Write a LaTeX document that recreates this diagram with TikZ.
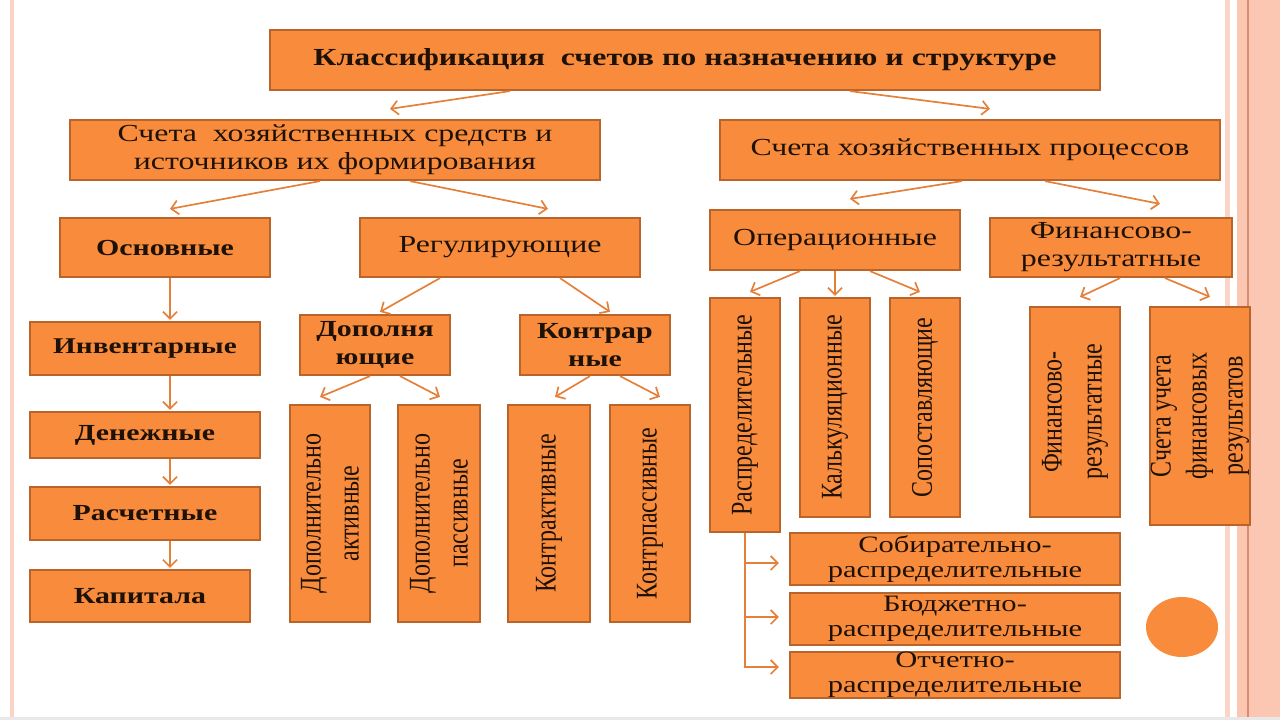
\documentclass[tikz,border=0pt]{standalone}
\usepackage{fontspec}
\setmainfont{Liberation Serif}[FakeStretch=1.3]
\newfontfamily\vfont{Liberation Serif}[FakeStretch=0.8]
\usetikzlibrary{arrows.meta,calc,shapes.geometric}
\definecolor{boxfill}{RGB}{248,140,60}
\definecolor{boxline}{RGB}{185,100,42}
\definecolor{arrcol}{RGB}{228,128,58}
\definecolor{txt}{RGB}{30,18,8}
\definecolor{stripeA}{RGB}{250,212,198}
\definecolor{stripeB}{RGB}{251,198,178}
\definecolor{stripeC}{RGB}{214,140,110}
\definecolor{bottomline}{RGB}{232,232,232}
\tikzset{
 box/.style={draw=boxline, line width=2.2pt, fill=boxfill, text=txt, inner sep=0pt, align=center, font=\fontsize{24.5}{28}\selectfont},
 bbox/.style={box, font=\bfseries\fontsize{23}{28}\selectfont},
 vbox/.style={draw=boxline, line width=2.2pt, fill=boxfill, inner sep=0pt},
 vtext/.style={rotate=90, text=txt, align=center, inner sep=0pt, font=\vfont\fontsize{30}{38}\selectfont},
 arr/.style={draw=arrcol, line width=1.7pt, -{Straight Barb[length=7pt,width=14pt]}},
}
\begin{document}
\begin{tikzpicture}[x=1pt,y=-1pt]
\useasboundingbox (0,0) rectangle (1280,720);
% decorative stripes
\fill[stripeA] (10,0) rectangle (14,720);
\fill[stripeA] (1225,0) rectangle (1230,720);
\fill[stripeB] (1237,0) rectangle (1280,720);
\fill[stripeC] (1247,0) rectangle (1249,720);
\fill[bottomline] (0,717) rectangle (1280,720);

% level 1
\node[bbox, minimum width=830pt, minimum height=60pt, font=\bfseries\fontsize{24.5}{28}\selectfont] (title) at (685,60) {Классификация~~счетов по назначению и структуре};
% level 2
\node[box, minimum width=530pt, minimum height=60pt] (sred) at (335,150) {Счета~~хозяйственных средств и\\источников их формирования};
\node[box, minimum width=500pt, minimum height=60pt] (proc) at (970,150) {Счета хозяйственных процессов};
% level 3
\node[bbox, minimum width=210pt, minimum height=59pt] (osn) at (165,247.5) {Основные};
\node[box, minimum width=280pt, minimum height=59pt] (reg) at (500,247.5) {Регулирующие};
\node[box, minimum width=250pt, minimum height=60pt] (oper) at (835,240) {Операционные};
\node[box, minimum width=242pt, minimum height=59pt] (finres) at (1111,247.5) {Финансово-\\результатные};
% left column
\node[bbox, minimum width=230pt, minimum height=53pt, font=\bfseries\fontsize{22.5}{28}\selectfont] (inv) at (145,348.5) {Инвентарные};
\node[bbox, minimum width=230pt, minimum height=46pt] (den) at (145,435) {Денежные};
\node[bbox, minimum width=230pt, minimum height=53pt] (rasch) at (145,513.5) {Расчетные};
\node[bbox, minimum width=220pt, minimum height=52pt] (kap) at (140,596) {Капитала};
% regulating
\node[bbox, minimum width=150pt, minimum height=60pt] (dop) at (375,345) {Дополня\\ющие};
\node[bbox, minimum width=150pt, minimum height=60pt] (kontr) at (595,345) {Контрар\\ные};
\node[vbox, minimum width=80pt, minimum height=217pt] (da) at (330,513.5) {};
\node[vtext] (daT) at (da) {Дополнительно\\активные};
\node[vbox, minimum width=82pt, minimum height=217pt] (dp) at (439,513.5) {};
\node[vtext] (dpT) at (dp) {Дополнительно\\пассивные};
\node[vbox, minimum width=82pt, minimum height=217pt] (ka) at (549,513.5) {};
\node[vtext] (kaT) at (ka) {Контрактивные};
\node[vbox, minimum width=80pt, minimum height=217pt] (kp) at (650,513.5) {};
\node[vtext] (kpT) at (kp) {Контрпассивные};
% operational
\node[vbox, minimum width=70pt, minimum height=234pt] (raspr) at (745,415) {};
\node[vtext] (rasprT) at (raspr) {Распределительные};
\node[vbox, minimum width=70pt, minimum height=219pt] (kalk) at (835,407.5) {};
\node[vtext] (kalkT) at (kalk) {Калькуляционные};
\node[vbox, minimum width=70pt, minimum height=219pt] (sopo) at (925,407.5) {};
\node[vtext] (sopoT) at (sopo) {Сопоставляющие};
% financial results
\node[vbox, minimum width=90pt, minimum height=210pt] (fr) at (1075,412) {};
\node[vtext, font=\vfont\fontsize{30}{40}\selectfont] (frT) at (fr) {Финансово-\\результатные};
\node[vbox, minimum width=100pt, minimum height=218pt] (sfr) at (1200,416) {};
\node[vtext, font=\vfont\fontsize{30}{36}\selectfont] (sfrT) at (sfr) {Счета учета\\финансовых\\результатов};
% distributive
\node[box, minimum width=330pt, minimum height=52pt, font=\fontsize{23.5}{25}\selectfont] (sob) at (955,559) {Собирательно-\\распределительные};
\node[box, minimum width=330pt, minimum height=52pt, font=\fontsize{23.5}{25}\selectfont] (bud) at (955,619) {Бюджетно-\\распределительные};
\node[box, minimum width=330pt, minimum height=46pt, font=\fontsize{23.5}{25}\selectfont] (otch) at (955,675) {Отчетно-\\распределительные};
% circle
\node[ellipse, fill=boxfill, minimum width=72pt, minimum height=60pt, inner sep=0pt] (circ) at (1182,627) {};

% connectors
\draw[arr] ([xshift=-175pt]title.south) -- ([xshift=55pt,yshift=10pt]sred.north);
\draw[arr] ([xshift=165pt]title.south) -- ([xshift=20pt,yshift=10pt]proc.north);
\draw[arr] ([xshift=-15pt]sred.south) -- ([xshift=5pt,yshift=8pt]osn.north);
\draw[arr] ([xshift=75pt]sred.south) -- ([xshift=48pt,yshift=8pt]reg.north);
\draw[arr] ([xshift=-8pt]proc.south) -- ([xshift=15pt,yshift=10pt]oper.north);
\draw[arr] ([xshift=75pt]proc.south) -- ([xshift=49pt,yshift=13pt]finres.north);
\draw[arr] ([xshift=5pt]osn.south) -- ([xshift=25pt,yshift=1pt]inv.north);
\draw[arr] ([xshift=25pt]inv.south) -- ([xshift=25pt,yshift=1pt]den.north);
\draw[arr] ([xshift=25pt]den.south) -- ([xshift=25pt,yshift=1pt]rasch.north);
\draw[arr] ([xshift=25pt]rasch.south) -- ([xshift=30pt,yshift=1pt]kap.north);
\draw[arr] ([xshift=-60pt]reg.south) -- ([xshift=5pt,yshift=2pt]dop.north);
\draw[arr] ([xshift=60pt]reg.south) -- ([xshift=15pt,yshift=2pt]kontr.north);
\draw[arr] ([xshift=-5pt]dop.south) -- ([xshift=-10pt,yshift=7pt]da.north);
\draw[arr] ([xshift=25pt]dop.south) -- ([xshift=1pt,yshift=7pt]dp.north);
\draw[arr] ([xshift=-5pt]kontr.south) -- ([xshift=6pt,yshift=7pt]ka.north);
\draw[arr] ([xshift=25pt]kontr.south) -- ([xshift=10pt,yshift=7pt]kp.north);
\draw[arr] ([xshift=-35pt]oper.south) -- ([xshift=5pt,yshift=5pt]raspr.north);
\draw[arr] (oper.south) -- ([yshift=1pt]kalk.north);
\draw[arr] ([xshift=35pt]oper.south) -- ([xshift=-5pt,yshift=5pt]sopo.north);
\draw[arr] ([xshift=9pt]finres.south) -- ([xshift=5pt,yshift=9pt]fr.north);
\draw[arr] ([xshift=54pt]finres.south) -- ([xshift=10pt,yshift=9pt]sfr.north);
\draw[arr] (raspr.south) |- ([xshift=-10pt,yshift=-4pt]sob.west);
\draw[arr] (raspr.south) |- ([xshift=-10pt,yshift=2pt]bud.west);
\draw[arr] (raspr.south) |- ([xshift=-10pt,yshift=8pt]otch.west);
\end{tikzpicture}
\end{document}
